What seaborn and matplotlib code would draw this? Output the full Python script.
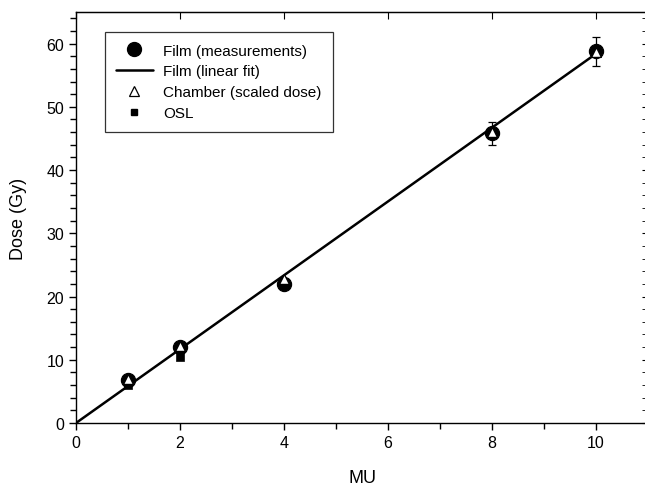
import numpy as np
import pandas as pd
import matplotlib
matplotlib.use("Agg")
import matplotlib.pyplot as plt
import seaborn as sns
from matplotlib.ticker import MultipleLocator
from matplotlib.lines import Line2D

# Data
mu_film = [1, 2, 4, 8, 10]
dose_film = [6.8, 12.0, 22.0, 45.8, 58.8]
err_film = [0.0, 0.0, 0.0, 1.8, 2.3]
mu_chamber = [1, 2, 4, 8, 10]
dose_chamber = [7.0, 12.2, 22.8, 46.0, 58.7]
mu_osl = [1, 2]
dose_osl = [6.0, 10.4]
fit_x = [0, 10]
fit_slope = 5.84
fit_intercept = 0.0

sns.set_style("ticks")
plt.rcParams['font.family'] = ['Liberation Sans', 'DejaVu Sans']
plt.rcParams['text.color'] = 'black'
plt.rcParams['axes.labelcolor'] = 'black'
plt.rcParams['xtick.color'] = 'black'
plt.rcParams['ytick.color'] = 'black'

fig = plt.figure(figsize=(6.45, 4.89), dpi=100)
ax = fig.add_axes([76/645, 65/489, 572/645, 411/489])

df_film = pd.DataFrame({"MU": mu_film, "Dose": dose_film})
df_ch = pd.DataFrame({"MU": mu_chamber, "Dose": dose_chamber})
df_osl = pd.DataFrame({"MU": mu_osl, "Dose": dose_osl})
df_fit = pd.DataFrame({"MU": fit_x, "Dose": [fit_slope * x + fit_intercept for x in fit_x]})

sns.lineplot(data=df_fit, x="MU", y="Dose", color="black", lw=1.8, ax=ax, zorder=2)
ax.errorbar(mu_film, dose_film, yerr=err_film, fmt="none", ecolor="black",
            elinewidth=0.9, capsize=3, capthick=0.9, zorder=3)
sns.scatterplot(data=df_osl, x="MU", y="Dose", marker="s", s=36, color="black",
                edgecolor="black", ax=ax, zorder=3)
sns.scatterplot(data=df_film, x="MU", y="Dose", marker="o", s=105, color="black",
                edgecolor="black", ax=ax, zorder=4)
sns.scatterplot(data=df_ch, x="MU", y="Dose", marker="^", s=50, color="white",
                edgecolor="black", linewidth=0.9, ax=ax, zorder=5)

ax.set_xlim(0, 11)
ax.set_ylim(0, 65)
ax.xaxis.set_major_locator(MultipleLocator(2))
ax.xaxis.set_minor_locator(MultipleLocator(1))
ax.yaxis.set_major_locator(MultipleLocator(10))
ax.yaxis.set_minor_locator(MultipleLocator(2))
ax.tick_params(which="major", direction="out", length=5, width=1, labelsize=11.5, colors="black")
ax.tick_params(which="minor", direction="out", length=4, width=1)
for s in ax.spines.values():
    s.set_linewidth(1.0)
    s.set_color("black")

secx = ax.secondary_xaxis("top")
secx.xaxis.set_major_locator(MultipleLocator(2))
secx.tick_params(direction="in", length=5, labeltop=False)
secy = ax.secondary_yaxis("right")
secy.yaxis.set_major_locator(MultipleLocator(10))
secy.yaxis.set_minor_locator(MultipleLocator(2))
secy.tick_params(which="both", direction="in", length=4, labelright=False)

ax.set_xlabel("MU", fontsize=13, labelpad=14)
ax.set_ylabel("Dose (Gy)", fontsize=13, labelpad=14)

handles = [
    Line2D([], [], marker="o", color="black", ls="none", markersize=10),
    Line2D([], [], color="black", lw=1.8),
    Line2D([], [], marker="^", color="black", markerfacecolor="white", ls="none", markersize=7, markeredgewidth=0.9),
    Line2D([], [], marker="s", color="black", ls="none", markersize=5),
]
labels = ["Film (measurements)", "Film (linear fit)", "Chamber (scaled dose)", "OSL"]
leg = ax.legend(handles, labels, loc="upper left", bbox_to_anchor=(0.05, 0.951),
                frameon=True, fancybox=False, edgecolor="black", fontsize=11,
                handlelength=2.4, borderpad=0.75, labelspacing=0.45, handletextpad=0.7,
                borderaxespad=0)
leg.get_frame().set_linewidth(0.9)

fig.savefig("out.png", dpi=100)
